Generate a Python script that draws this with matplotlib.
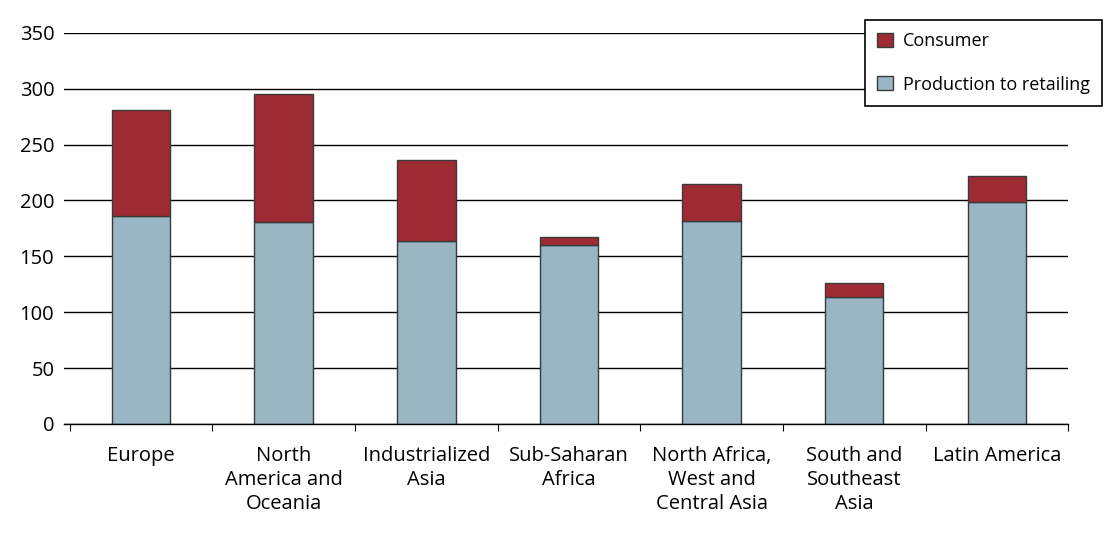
import numpy as np
import matplotlib.pyplot as plt
from matplotlib.patches import Patch

regions = ["Europe", "North\nAmerica and\nOceania", "Industrialized\nAsia",
           "Sub-Saharan\nAfrica", "North Africa,\nWest and\nCentral Asia",
           "South and\nSoutheast\nAsia", "Latin America"]
production = [186, 181, 164, 160, 182, 114, 199]
consumer = [95, 114, 72, 7, 33, 12, 23]

plt.rcParams['font.family'] = ['Open Sans', 'DejaVu Sans']

fig = plt.figure(figsize=(11.17, 5.4), dpi=100)
ax = fig.add_axes([0.0573, 0.215, 0.899, 0.724])

x = np.arange(len(regions))
red = "#9e2b34"
blue = "#98b6c3"
edge = "#3a3a3a"

ax.set_axisbelow(True)
ax.yaxis.grid(True, color="black", lw=1)
ax.bar(x, production, width=0.41, color=blue, edgecolor=edge, lw=1, zorder=2)
ax.bar(x, consumer, width=0.41, bottom=production, color=red, edgecolor=edge, lw=1, zorder=2)

ax.set_ylim(0, 350)
ax.set_yticks(range(0, 351, 50))
ax.set_xlim(-0.54, 6.5)

for s in ["top", "right", "left"]:
    ax.spines[s].set_visible(False)
ax.spines["bottom"].set_linewidth(1)

ax.tick_params(axis="y", length=0, labelsize=14.5, pad=7)
ax.set_xticks(np.arange(-0.5, 7, 1))
ax.set_xticklabels([])
ax.tick_params(axis="x", which="major", length=5, direction="out")
ax.set_xticks(x, minor=True)
ax.set_xticklabels(regions, minor=True, fontsize=14.5, linespacing=1.27, va="top")
ax.tick_params(axis="x", which="minor", length=0, pad=16)

handles = [Patch(facecolor=red, edgecolor=edge, label="Consumer"),
           Patch(facecolor=blue, edgecolor=edge, label="Production to retailing")]
leg = fig.legend(handles=handles, loc="upper left", bbox_to_anchor=(0.7745, 0.963),
                 frameon=True, fancybox=False, edgecolor="black", fontsize=13,
                 framealpha=1, handlelength=0.85, handleheight=0.85, labelspacing=1.4,
                 borderpad=0.68, handletextpad=0.55, borderaxespad=0)
leg.get_frame().set_linewidth(1.2)

fig.savefig("out.png", dpi=100)
